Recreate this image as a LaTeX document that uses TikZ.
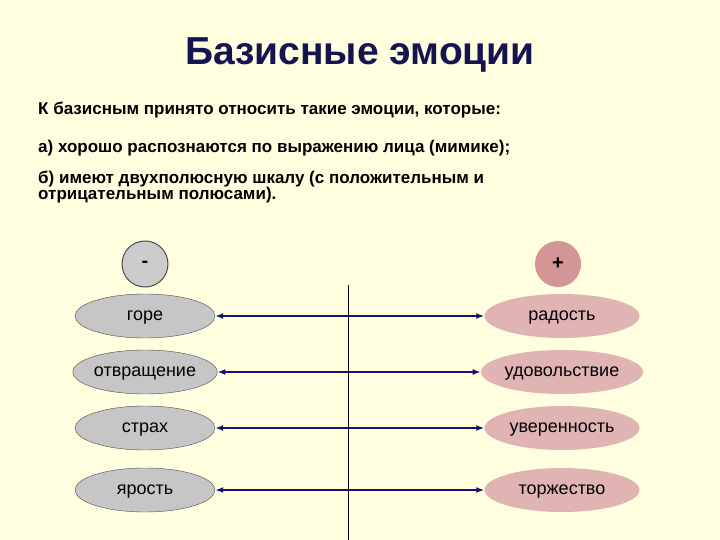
\documentclass[tikz,border=0pt]{standalone}
\usepackage{fontspec}
\setmainfont{Liberation Sans}
\usetikzlibrary{shapes.geometric,arrows.meta}
\begin{document}
\begin{tikzpicture}[x=1pt,y=-1pt,
 negbox/.style={ellipse,draw=black!70,fill=gray!45,minimum width=140pt,minimum height=44pt,font=\fontsize{18}{20}\selectfont,inner sep=0pt,text height=12pt,text depth=3pt},
 posbox/.style={ellipse,fill={rgb,255:red,225;green,180;blue,180},minimum width=155pt,minimum height=44pt,font=\fontsize{18}{20}\selectfont,inner sep=0pt,text height=12pt,text depth=3pt},
 txt/.style={anchor=west,font=\bfseries\fontsize{17}{19}\selectfont,inner sep=0pt,align=left},
 link/.style={{Latex[length=8pt]}-{Latex[length=8pt]},draw={rgb,255:red,20;green,20;blue,110},line width=2pt}]
\useasboundingbox[fill={rgb,255:red,255;green,255;blue,224}] (0,0) rectangle (720,540);
\node[font=\bfseries\fontsize{39}{42}\selectfont,text={rgb,255:red,20;green,20;blue,80}] (title) at (360,55) {Базисные эмоции};
\node[txt] (t1) at (38,110) {К базисным принято относить такие эмоции, которые:};
\node[txt] (t2) at (38,148) {а) хорошо распознаются по выражению лица (мимике);};
\node[txt,anchor=north west] (t3) at (38,171) {б) имеют двухполюсную шкалу (с положительным и\\[-3pt]отрицательным полюсами).};
\node[circle,draw=black!70,line width=1pt,fill=gray!40,minimum size=46pt,font=\bfseries\fontsize{20}{22}\selectfont] (m) at (145,264) {-};
\node[circle,fill={rgb,255:red,210;green,150;blue,150},minimum size=46pt,font=\bfseries\fontsize{20}{22}\selectfont] (p) at (558,264) {+};
\coordinate (vt) at (348,285); \coordinate (vb) at (348,540);
\draw[black] (vt) -- (vb);
\node[negbox] (a1) at (145,316) {горе};
\node[negbox] (a2) at (145,372) {отвращение};
\node[negbox] (a3) at (145,428) {страх};
\node[negbox] (a4) at (145,490) {ярость};
\node[posbox] (b1) at (562,316) {радость};
\node[posbox] (b2) at (562,372) {удовольствие};
\node[posbox] (b3) at (562,428) {уверенность};
\node[posbox] (b4) at (562,490) {торжество};
\foreach \i in {1,...,4} \draw[link] (a\i) -- (b\i);
\end{tikzpicture}
\end{document}
